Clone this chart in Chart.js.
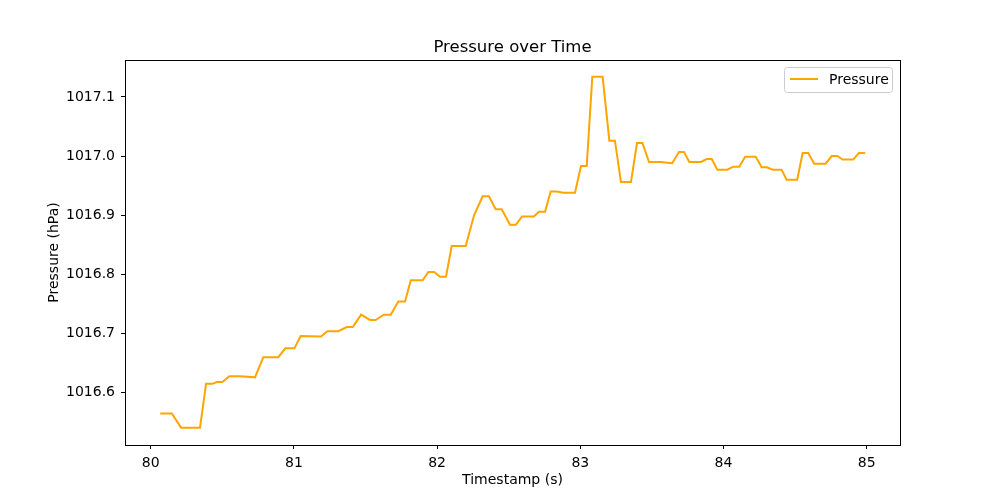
<!DOCTYPE html>
<html>
<head>
<meta charset="utf-8">
<script src="https://cdn.jsdelivr.net/npm/chart.js@4.4.1/dist/chart.umd.min.js"></script>
<style>
  html, body { margin: 0; padding: 0; background: #fff; }
  #wrap { width: 1000px; height: 500px; }
</style>
</head>
<body>
<div id="wrap"><canvas id="pressureChart" width="1000" height="500"></canvas></div>
<script>
// timestamps (s) at the corners of the trace
const timestamps = [
  80.066, 80.147, 80.212, 80.344, 80.386, 80.430, 80.461, 80.500, 80.549, 80.624,
  80.728, 80.786, 80.891, 80.940, 81.003, 81.047, 81.189, 81.233, 81.310, 81.369,
  81.411, 81.469, 81.531, 81.571, 81.627, 81.676, 81.729, 81.776, 81.816, 81.899,
  81.939, 81.980, 82.020, 82.062, 82.102, 82.200, 82.258, 82.318, 82.362, 82.409,
  82.451, 82.509, 82.551, 82.593, 82.675, 82.712, 82.754, 82.793, 82.835, 82.881,
  82.963, 83.005, 83.045, 83.084, 83.156, 83.203, 83.242, 83.284, 83.354, 83.396,
  83.434, 83.480, 83.560, 83.642, 83.689, 83.724, 83.761, 83.843, 83.883, 83.918,
  83.957, 84.027, 84.068, 84.110, 84.152, 84.225, 84.267, 84.302, 84.344, 84.406,
  84.441, 84.515, 84.553, 84.592, 84.634, 84.714, 84.756, 84.795, 84.832, 84.906,
  84.946, 84.990
];

// pressure (hPa)
const pressure = [
  1016.565, 1016.565, 1016.541, 1016.541, 1016.615, 1016.615, 1016.618, 1016.618, 1016.628, 1016.628,
  1016.626, 1016.660, 1016.660, 1016.675, 1016.675, 1016.696, 1016.695, 1016.704, 1016.704, 1016.711,
  1016.711, 1016.732, 1016.723, 1016.723, 1016.732, 1016.732, 1016.754, 1016.754, 1016.790, 1016.790,
  1016.804, 1016.804, 1016.796, 1016.796, 1016.848, 1016.848, 1016.900, 1016.932, 1016.932, 1016.910,
  1016.910, 1016.884, 1016.884, 1016.898, 1016.898, 1016.906, 1016.906, 1016.940, 1016.940, 1016.938,
  1016.938, 1016.983, 1016.983, 1017.134, 1017.134, 1017.026, 1017.026, 1016.956, 1016.956, 1017.022,
  1017.022, 1016.990, 1016.990, 1016.988, 1017.007, 1017.007, 1016.990, 1016.990, 1016.995, 1016.995,
  1016.977, 1016.977, 1016.982, 1016.982, 1016.999, 1016.999, 1016.981, 1016.981, 1016.977, 1016.977,
  1016.960, 1016.960, 1017.005, 1017.005, 1016.987, 1016.987, 1017.000, 1017.000, 1016.994, 1016.994,
  1017.005, 1017.005
];

const xTicks = [80, 81, 82, 83, 84, 85];
const yTicks = [1016.6, 1016.7, 1016.8, 1016.9, 1017.0, 1017.1];

const FONT = "'DejaVu Sans', sans-serif";
const lineColor = '#FFA500';

// matplotlib-like frame, title and legend
const framePlugin = {
    id: 'frame',
    afterDraw(chart) {
        const { ctx, chartArea: a } = chart;
        ctx.save();
        ctx.strokeStyle = '#000';
        ctx.lineWidth = 1;
        ctx.strokeRect(Math.round(a.left) + 0.5, Math.round(a.top) + 0.5,
            Math.round(a.right - a.left), Math.round(a.bottom - a.top));

        // title
        ctx.fillStyle = '#000';
        ctx.font = '16.5px ' + FONT;
        ctx.textAlign = 'center';
        ctx.textBaseline = 'alphabetic';
        ctx.fillText('Pressure over Time', (a.left + a.right) / 2, a.top - 8);

        // legend box
        const bx = 784.5, by = 67.5, bw = 108, bh = 25;
        ctx.fillStyle = 'rgba(255,255,255,0.8)';
        ctx.strokeStyle = '#cccccc';
        ctx.beginPath();
        ctx.roundRect(bx, by, bw, bh, 3);
        ctx.fill();
        ctx.stroke();
        ctx.strokeStyle = lineColor;
        ctx.lineWidth = 2;
        ctx.beginPath();
        ctx.moveTo(790, 79);
        ctx.lineTo(818, 79);
        ctx.stroke();
        ctx.fillStyle = '#000';
        ctx.font = '14px ' + FONT;
        ctx.textAlign = 'left';
        ctx.textBaseline = 'middle';
        ctx.fillText(chart.data.datasets[0].label, 829, 80);
        ctx.restore();
    }
};

new Chart(document.getElementById('pressureChart'), {
    type: 'line',
    data: {
        datasets: [{
            label: 'Pressure',
            data: timestamps.map((t, i) => ({ x: t, y: pressure[i] })),
            borderColor: lineColor,
            backgroundColor: lineColor,
            borderWidth: 2,
            pointRadius: 0,
            tension: 0,
            fill: false
        }]
    },
    options: {
        responsive: false,
        animation: false,
        layout: { padding: { top: 60, right: 100, left: 0, bottom: 0 } },
        plugins: {
            legend: { display: false },
            title: { display: false },
            tooltip: { enabled: false }
        },
        scales: {
            x: {
                type: 'linear',
                min: 79.82,
                max: 85.233,
                afterBuildTicks: (s) => { s.ticks = xTicks.map(v => ({ value: v })); },
                afterFit: (s) => { s.height = 55; },
                grid: { drawOnChartArea: false, drawTicks: true, tickLength: 4, color: '#000' },
                border: { display: true, color: '#000' },
                ticks: {
                    color: '#000',
                    font: { family: FONT, size: 14 },
                    padding: 6,
                    maxRotation: 0,
                    callback: (v) => String(v)
                },
                title: {
                    display: true,
                    text: 'Timestamp (s)',
                    color: '#000',
                    font: { family: FONT, size: 14 },
                    padding: { top: 0, bottom: 11 }
                }
            },
            y: {
                type: 'linear',
                min: 1016.5117,
                max: 1017.1623,
                afterBuildTicks: (s) => { s.ticks = yTicks.map(v => ({ value: v })); },
                afterFit: (s) => { s.width = 125; },
                grid: { drawOnChartArea: false, drawTicks: true, tickLength: 4, color: '#000' },
                border: { display: true, color: '#000' },
                ticks: {
                    color: '#000',
                    font: { family: FONT, size: 14 },
                    padding: 6,
                    callback: (v) => v.toFixed(1)
                },
                title: {
                    display: true,
                    text: 'Pressure (hPa)',
                    color: '#000',
                    font: { family: FONT, size: 14 },
                    padding: { top: 46, bottom: 0 }
                }
            }
        }
    },
    plugins: [framePlugin]
});
</script>
</body>
</html>
